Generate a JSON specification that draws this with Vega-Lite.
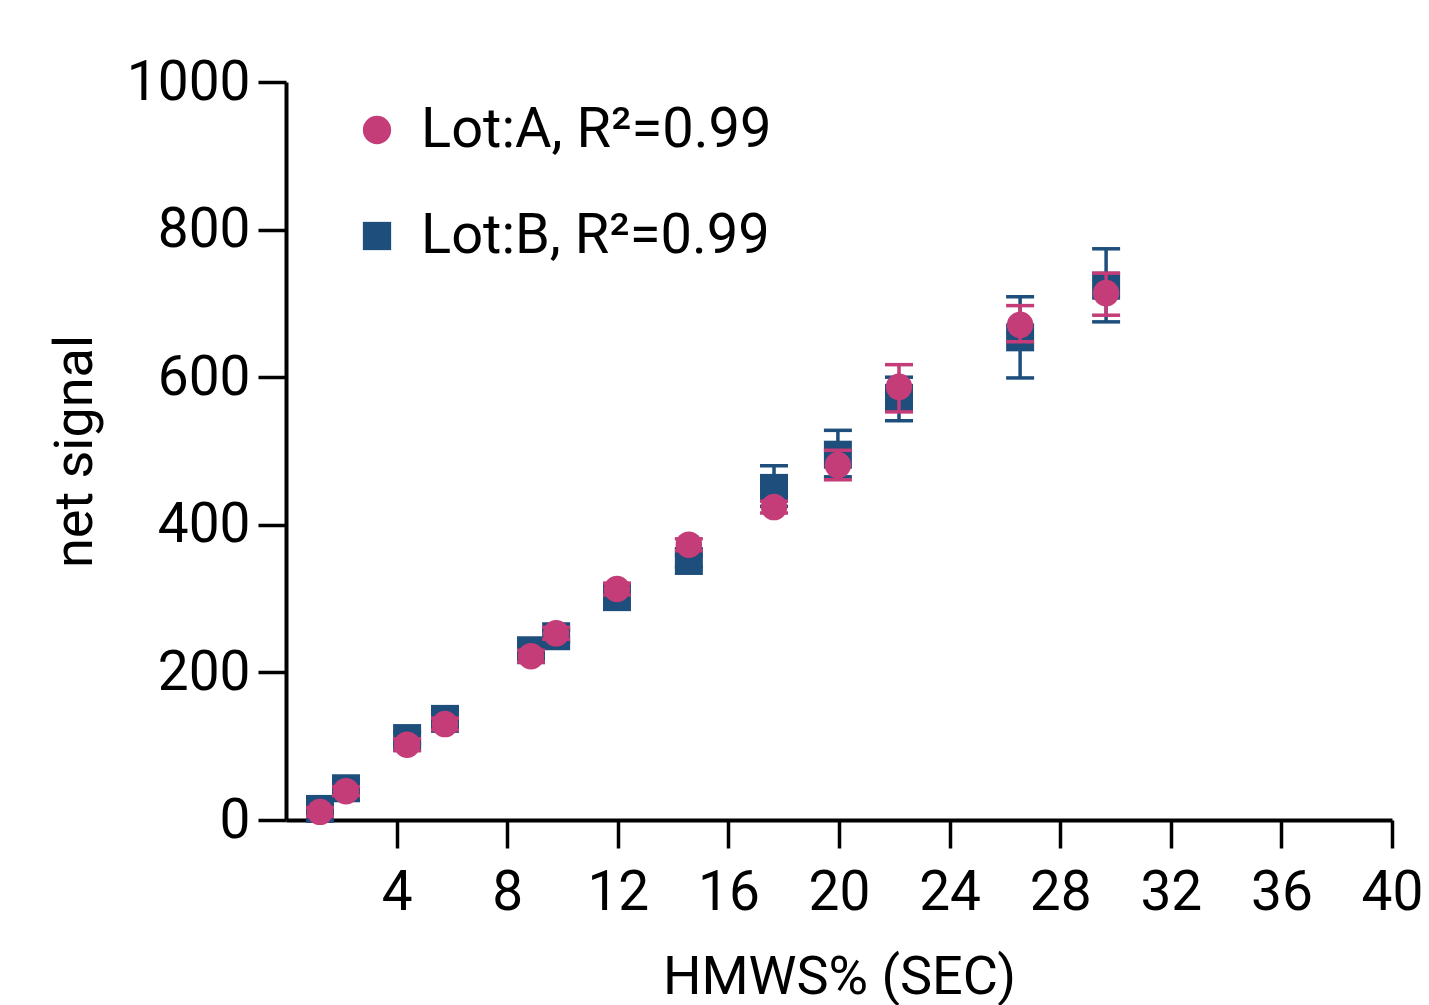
{
  "$schema": "https://vega.github.io/schema/vega-lite/v6.json",
  "width": 1106,
  "height": 738,
  "autosize": "none",
  "padding": {"left": 286, "top": 82, "right": 37, "bottom": 185},
  "background": "white",
  "config": {
    "view": {"stroke": null},
    "font": "Roboto",
    "axis": {
      "domainColor": "black", "domainWidth": 4, "tickColor": "black", "tickWidth": 3.5, "tickSize": 28,
      "labelFont": "Roboto", "labelFontSize": 55, "labelColor": "black",
      "titleFont": "Roboto", "titleFontSize": 54, "titleFontWeight": "normal", "titleColor": "black",
      "grid": false
    },
    "legend": {
      "orient": "none", "legendX": 63, "legendY": 20, "title": null,
      "labelFont": "Roboto", "labelFontSize": 56, "labelColor": "black", "labelLimit": 600,
      "symbolSize": 800, "symbolStrokeWidth": 0, "symbolOpacity": 1, "rowPadding": 50, "labelOffset": 16
    }
  },
  "data": {"values": [
    {"lot": "Lot:B, R²=0.99", "x": 1.23, "y": 15, "lo": 9, "hi": 21},
    {"lot": "Lot:B, R²=0.99", "x": 2.17, "y": 43, "lo": 35, "hi": 51},
    {"lot": "Lot:B, R²=0.99", "x": 4.38, "y": 111, "lo": 103, "hi": 119},
    {"lot": "Lot:B, R²=0.99", "x": 5.75, "y": 137, "lo": 129, "hi": 145},
    {"lot": "Lot:B, R²=0.99", "x": 8.86, "y": 230, "lo": 218, "hi": 242},
    {"lot": "Lot:B, R²=0.99", "x": 9.77, "y": 249, "lo": 241, "hi": 257},
    {"lot": "Lot:B, R²=0.99", "x": 11.97, "y": 302, "lo": 294, "hi": 310},
    {"lot": "Lot:B, R²=0.99", "x": 14.57, "y": 351, "lo": 343, "hi": 359},
    {"lot": "Lot:B, R²=0.99", "x": 17.65, "y": 450, "lo": 425, "hi": 480},
    {"lot": "Lot:B, R²=0.99", "x": 19.96, "y": 495, "lo": 465, "hi": 528},
    {"lot": "Lot:B, R²=0.99", "x": 22.17, "y": 572, "lo": 541, "hi": 600},
    {"lot": "Lot:B, R²=0.99", "x": 26.55, "y": 654, "lo": 599, "hi": 709},
    {"lot": "Lot:B, R²=0.99", "x": 29.66, "y": 724, "lo": 675, "hi": 774},
    {"lot": "Lot:A, R²=0.99", "x": 1.23, "y": 11, "lo": 5, "hi": 17},
    {"lot": "Lot:A, R²=0.99", "x": 2.17, "y": 39, "lo": 33, "hi": 45},
    {"lot": "Lot:A, R²=0.99", "x": 4.38, "y": 102, "lo": 94, "hi": 110},
    {"lot": "Lot:A, R²=0.99", "x": 5.75, "y": 130, "lo": 122, "hi": 138},
    {"lot": "Lot:A, R²=0.99", "x": 8.86, "y": 222, "lo": 214, "hi": 230},
    {"lot": "Lot:A, R²=0.99", "x": 9.77, "y": 253, "lo": 245, "hi": 261},
    {"lot": "Lot:A, R²=0.99", "x": 11.97, "y": 313, "lo": 305, "hi": 321},
    {"lot": "Lot:A, R²=0.99", "x": 14.57, "y": 373, "lo": 365, "hi": 381},
    {"lot": "Lot:A, R²=0.99", "x": 17.65, "y": 424, "lo": 416, "hi": 432},
    {"lot": "Lot:A, R²=0.99", "x": 19.96, "y": 481, "lo": 461, "hi": 501},
    {"lot": "Lot:A, R²=0.99", "x": 22.17, "y": 587, "lo": 553, "hi": 617},
    {"lot": "Lot:A, R²=0.99", "x": 26.55, "y": 671, "lo": 648, "hi": 697},
    {"lot": "Lot:A, R²=0.99", "x": 29.66, "y": 714, "lo": 684, "hi": 741}
  ]},
  "encoding": {
    "x": {"field": "x", "type": "quantitative", "scale": {"domain": [0, 40], "nice": false},
      "axis": {"values": [4, 8, 12, 16, 20, 24, 28, 32, 36, 40], "title": "HMWS% (SEC)", "labelPadding": 18, "titlePadding": 30, "labelFlush": false}},
    "color": {"field": "lot", "type": "nominal",
      "scale": {"domain": ["Lot:A, R²=0.99", "Lot:B, R²=0.99"], "range": ["#C43C78", "#1D4E7C"]}}
  },
  "layer": [
    {
      "transform": [{"filter": "datum.lot == 'Lot:B, R²=0.99'"}],
      "mark": {"type": "errorbar", "ticks": {"size": 28}, "thickness": 3.5, "opacity": 1},
      "encoding": {
        "y": {"field": "lo", "type": "quantitative", "scale": {"domain": [0, 1000], "nice": false},
          "axis": {"values": [0, 200, 400, 600, 800, 1000], "format": "d", "title": "net signal", "labelPadding": 8, "titlePadding": 24, "labelFlush": false}},
        "y2": {"field": "hi"}
      }
    },
    {
      "transform": [{"filter": "datum.lot == 'Lot:B, R²=0.99'"}],
      "mark": {"type": "point", "filled": true, "opacity": 1, "size": 784},
      "encoding": {
        "y": {"field": "y", "type": "quantitative", "title": "net signal"},
        "shape": {"field": "lot", "type": "nominal", "scale": {"domain": ["Lot:A, R²=0.99", "Lot:B, R²=0.99"], "range": ["circle", "square"]}}
      }
    },
    {
      "transform": [{"filter": "datum.lot == 'Lot:A, R²=0.99'"}],
      "mark": {"type": "errorbar", "ticks": {"size": 28}, "thickness": 3.5, "opacity": 1},
      "encoding": {
        "y": {"field": "lo", "type": "quantitative", "title": "net signal"},
        "y2": {"field": "hi"}
      }
    },
    {
      "transform": [{"filter": "datum.lot == 'Lot:A, R²=0.99'"}],
      "mark": {"type": "point", "filled": true, "opacity": 1, "size": 700},
      "encoding": {
        "y": {"field": "y", "type": "quantitative", "title": "net signal"},
        "shape": {"field": "lot", "type": "nominal"}
      }
    }
  ]
}
